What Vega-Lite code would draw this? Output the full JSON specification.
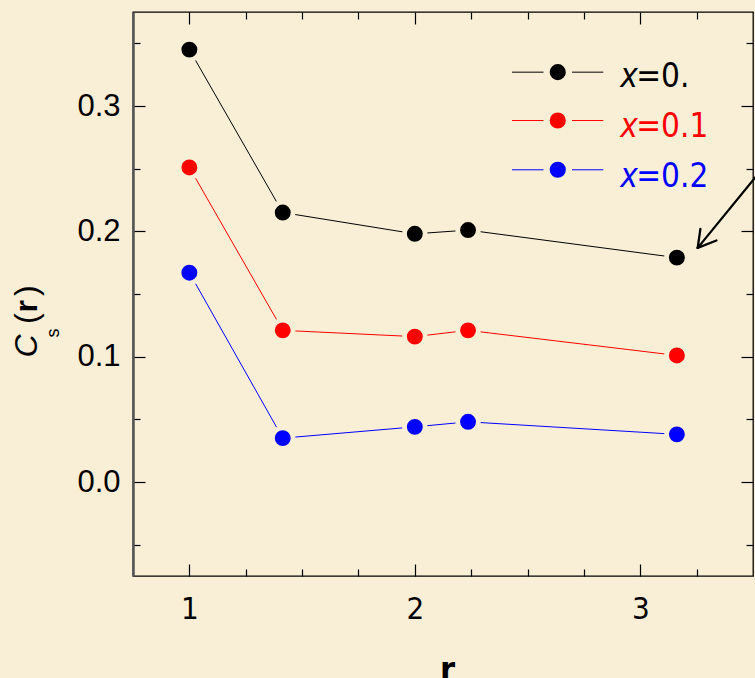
{
  "$schema": "https://vega.github.io/schema/vega-lite/v6.json",
  "width": 620,
  "height": 564,
  "autosize": "none",
  "padding": {"left": 133, "top": 12, "right": 2, "bottom": 102},
  "background": "#F9EFD6",
  "config": {
    "view": {"stroke": "#000000", "strokeWidth": 1.3},
    "axis": {"grid": false, "tickColor": "#000000", "tickWidth": 1.2, "labelColor": "#000000", "titleColor": "#000000"}
  },
  "datasets": {
    "series": [
      {"r": 1, "c": 0.345, "s": "x=0."},
      {"r": 1.4142, "c": 0.215, "s": "x=0."},
      {"r": 2, "c": 0.198, "s": "x=0."},
      {"r": 2.2361, "c": 0.201, "s": "x=0."},
      {"r": 3.1623, "c": 0.179, "s": "x=0."},
      {"r": 1, "c": 0.251, "s": "x=0.1"},
      {"r": 1.4142, "c": 0.121, "s": "x=0.1"},
      {"r": 2, "c": 0.116, "s": "x=0.1"},
      {"r": 2.2361, "c": 0.121, "s": "x=0.1"},
      {"r": 3.1623, "c": 0.101, "s": "x=0.1"},
      {"r": 1, "c": 0.167, "s": "x=0.2"},
      {"r": 1.4142, "c": 0.035, "s": "x=0.2"},
      {"r": 2, "c": 0.044, "s": "x=0.2"},
      {"r": 2.2361, "c": 0.048, "s": "x=0.2"},
      {"r": 3.1623, "c": 0.038, "s": "x=0.2"}
    ],
    "key": [
      {"s": "x=0.", "rest": "=0.", "y": 0.327, "ty": 0.315},
      {"s": "x=0.1", "rest": "=0.1", "y": 0.2884, "ty": 0.2751},
      {"s": "x=0.2", "rest": "=0.2", "y": 0.2491, "ty": 0.2352}
    ],
    "arrow": [
      {"x1": 3.511, "y1": 0.2432, "x2": 3.2547, "y2": 0.1868},
      {"x1": 3.2547, "y1": 0.1868, "x2": 3.2667, "y2": 0.202},
      {"x1": 3.2547, "y1": 0.1868, "x2": 3.3378, "y2": 0.1927}
    ]
  },
  "layer": [
    {
      "mark": {"type": "rule", "color": "#000000", "strokeWidth": 1.2},
      "encoding": {
        "y": {"datum": 0, "type": "quantitative", "scale": {"domain": [-0.075, 0.375], "nice": false, "zero": false}, "axis": null}
      }
    },
    {
      "data": {"name": "series"},
      "mark": {"type": "line", "strokeWidth": 1},
      "encoding": {
        "x": {
          "field": "r", "type": "quantitative",
          "scale": {"domain": [0.75, 3.5], "nice": false, "zero": false},
          "axis": {
            "orient": "bottom",
            "values": [1, 1.25, 1.5, 1.75, 2, 2.25, 2.5, 2.75, 3, 3.25],
            "tickSize": {"condition": {"test": "datum.value % 1 === 0", "value": -12}, "value": -7},
            "domain": false,
            "labelExpr": "datum.value % 1 === 0 ? format(datum.value, 'd') : ''",
            "labelFont": "DejaVu Sans Condensed",
            "labelFontSize": 31,
            "labelPadding": 30,
            "labelOverlap": false,
            "labelFlush": false,
            "title": "r",
            "titleFont": "DejaVu Sans Condensed",
            "titleFontWeight": "bold",
            "titleFontSize": 34,
            "titleX": 314,
            "titleY": 104,
            "titleAlign": "center",
            "titleBaseline": "alphabetic"
          }
        },
        "y": {
          "field": "c", "type": "quantitative",
          "scale": {"domain": [-0.075, 0.375], "nice": false, "zero": false},
          "axis": {
            "orient": "left",
            "values": [-0.05, 0, 0.05, 0.1, 0.15, 0.2, 0.25, 0.3, 0.35],
            "tickSize": {"condition": {"test": "abs(datum.value * 10 - round(datum.value * 10)) < 1e-6", "value": -12}, "value": -7},
            "domain": true,
            "domainColor": "#555555",
            "domainWidth": 2.5,
            "labelExpr": "abs(datum.value * 10 - round(datum.value * 10)) < 1e-6 ? format(datum.value, '.1f') : ''",
            "labelFont": "Liberation Sans",
            "labelFontSize": 31,
            "labelPadding": 25,
            "labelOverlap": false,
            "labelFlush": false,
            "title": null
          }
        },
        "color": {"field": "s", "type": "nominal", "scale": {"domain": ["x=0.", "x=0.1", "x=0.2"], "range": ["#000000", "#FF0000", "#0000FF"]}, "legend": null}
      }
    },
    {
      "data": {"name": "series"},
      "mark": {"type": "point", "filled": true, "opacity": 1, "size": 426, "stroke": "#F9EFD6", "strokeWidth": 4.7},
      "encoding": {
        "x": {
          "field": "r", "type": "quantitative",
          "scale": {"domain": [0.75, 3.5], "nice": false, "zero": false},
          "axis": {
            "orient": "top",
            "values": [1, 1.25, 1.5, 1.75, 2, 2.25, 2.5, 2.75, 3, 3.25],
            "tickSize": {"condition": {"test": "datum.value % 1 === 0", "value": -12}, "value": -7},
            "domain": false, "labels": false, "title": null
          }
        },
        "y": {
          "field": "c", "type": "quantitative",
          "scale": {"domain": [-0.075, 0.375], "nice": false, "zero": false},
          "axis": {
            "orient": "right",
            "values": [-0.05, 0, 0.05, 0.1, 0.15, 0.2, 0.25, 0.3, 0.35],
            "tickSize": {"condition": {"test": "abs(datum.value * 10 - round(datum.value * 10)) < 1e-6", "value": -12}, "value": -7},
            "domain": false, "labels": false, "title": null
          }
        },
        "color": {"field": "s", "type": "nominal", "scale": {"domain": ["x=0.", "x=0.1", "x=0.2"], "range": ["#000000", "#FF0000", "#0000FF"]}, "legend": null}
      }
    },
    {
      "data": {"name": "key"},
      "mark": {"type": "rule", "strokeWidth": 1},
      "encoding": {
        "x": {"datum": 2.431, "type": "quantitative", "scale": {"domain": [0.75, 3.5], "nice": false, "zero": false}, "axis": null},
        "x2": {"datum": 2.836},
        "y": {"field": "y", "type": "quantitative", "scale": {"domain": [-0.075, 0.375], "nice": false, "zero": false}, "axis": null},
        "color": {"field": "s", "type": "nominal", "legend": null}
      }
    },
    {
      "data": {"name": "key"},
      "mark": {"type": "point", "filled": true, "opacity": 1, "size": 499, "stroke": "#F9EFD6", "strokeWidth": 6.2},
      "encoding": {
        "x": {"datum": 2.634, "type": "quantitative", "scale": {"domain": [0.75, 3.5], "nice": false, "zero": false}, "axis": null},
        "y": {"field": "y", "type": "quantitative", "scale": {"domain": [-0.075, 0.375], "nice": false, "zero": false}, "axis": null},
        "color": {"field": "s", "type": "nominal", "legend": null}
      }
    },
    {
      "data": {"name": "key"},
      "mark": {"type": "text", "align": "left", "baseline": "alphabetic", "font": "DejaVu Sans Condensed", "fontStyle": "italic", "fontSize": 33},
      "encoding": {
        "x": {"datum": 2.911, "type": "quantitative", "scale": {"domain": [0.75, 3.5], "nice": false, "zero": false}, "axis": null},
        "y": {"field": "ty", "type": "quantitative", "scale": {"domain": [-0.075, 0.375], "nice": false, "zero": false}, "axis": null},
        "text": {"value": "x"},
        "color": {"field": "s", "type": "nominal", "legend": null}
      }
    },
    {
      "data": {"name": "key"},
      "mark": {"type": "text", "align": "left", "baseline": "alphabetic", "font": "DejaVu Sans Condensed", "fontSize": 33},
      "encoding": {
        "x": {"datum": 2.982, "type": "quantitative", "scale": {"domain": [0.75, 3.5], "nice": false, "zero": false}, "axis": null},
        "y": {"field": "ty", "type": "quantitative", "scale": {"domain": [-0.075, 0.375], "nice": false, "zero": false}, "axis": null},
        "text": {"field": "rest"},
        "color": {"field": "s", "type": "nominal", "legend": null}
      }
    },
    {
      "data": {"name": "arrow"},
      "mark": {"type": "rule", "color": "#000000", "strokeWidth": 2.3, "strokeCap": "round"},
      "encoding": {
        "x": {"field": "x1", "type": "quantitative", "scale": {"domain": [0.75, 3.5], "nice": false, "zero": false}, "axis": null},
        "y": {"field": "y1", "type": "quantitative", "scale": {"domain": [-0.075, 0.375], "nice": false, "zero": false}, "axis": null},
        "x2": {"field": "x2"},
        "y2": {"field": "y2"}
      }
    },
    {
      "data": {"values": [{"t": "C", "x": 0.3244, "y": 0.0993}]},
      "mark": {"type": "text", "angle": 270, "align": "left", "baseline": "alphabetic", "font": "Liberation Sans", "fontStyle": "italic", "fontSize": 32, "color": "#000000"},
      "encoding": {
        "x": {"field": "x", "type": "quantitative", "scale": {"domain": [0.75, 3.5], "nice": false, "zero": false}, "axis": null},
        "y": {"field": "y", "type": "quantitative", "scale": {"domain": [-0.075, 0.375], "nice": false, "zero": false}, "axis": null},
        "text": {"field": "t"}
      }
    },
    {
      "data": {"values": [{"t": "s", "x": 0.4222, "y": 0.1152}]},
      "mark": {"type": "text", "angle": 270, "align": "left", "baseline": "alphabetic", "font": "Liberation Sans", "fontSize": 18, "color": "#000000"},
      "encoding": {
        "x": {"field": "x", "type": "quantitative", "scale": {"domain": [0.75, 3.5], "nice": false, "zero": false}, "axis": null},
        "y": {"field": "y", "type": "quantitative", "scale": {"domain": [-0.075, 0.375], "nice": false, "zero": false}, "axis": null},
        "text": {"field": "t"}
      }
    },
    {
      "data": {"values": [{"t": "(", "x": 0.3244, "y": 0.1261}, {"t": ")", "x": 0.3244, "y": 0.1484}]},
      "mark": {"type": "text", "angle": 270, "align": "left", "baseline": "alphabetic", "font": "Liberation Sans", "fontSize": 32, "color": "#000000"},
      "encoding": {
        "x": {"field": "x", "type": "quantitative", "scale": {"domain": [0.75, 3.5], "nice": false, "zero": false}, "axis": null},
        "y": {"field": "y", "type": "quantitative", "scale": {"domain": [-0.075, 0.375], "nice": false, "zero": false}, "axis": null},
        "text": {"field": "t"}
      }
    },
    {
      "data": {"values": [{"t": "r", "x": 0.3244, "y": 0.1352}]},
      "mark": {"type": "text", "angle": 270, "align": "left", "baseline": "alphabetic", "font": "Liberation Sans", "fontWeight": "bold", "fontSize": 32, "color": "#000000"},
      "encoding": {
        "x": {"field": "x", "type": "quantitative", "scale": {"domain": [0.75, 3.5], "nice": false, "zero": false}, "axis": null},
        "y": {"field": "y", "type": "quantitative", "scale": {"domain": [-0.075, 0.375], "nice": false, "zero": false}, "axis": null},
        "text": {"field": "t"}
      }
    }
  ],
  "resolve": {"axis": {"x": "independent", "y": "independent"}}
}
